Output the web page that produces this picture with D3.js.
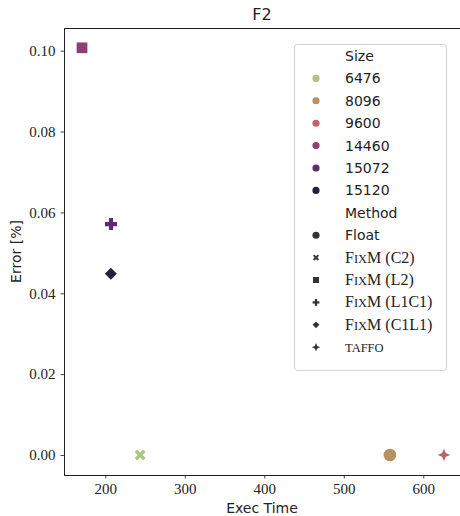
<!DOCTYPE html>
<html>
<head>
<meta charset="utf-8">
<script src="https://cdn.jsdelivr.net/npm/d3@7"></script>
<style>
  html, body { margin: 0; padding: 0; background: #fff; }
  svg { display: block; }
  .sans { font-family: "DejaVu Sans", sans-serif; }
  .serif { font-family: "Liberation Serif", serif; }
</style>
</head>
<body>
<div id="chart"></div>
<script>
// --- data ---
const sizes = ["6476", "8096", "9600", "14460", "15072", "15120"];
const sizeColors = ["#afc27f", "#b79160", "#bc6563", "#8f3e72", "#5c2c6c", "#24203f"];
const methods = ["Float", "FixM (C2)", "FixM (L2)", "FixM (L1C1)", "FixM (C1L1)", "taffo"];

const pointSize   = ["6476", "8096", "9600", "14460", "15072", "15120"];
const pointMethod = ["FixM (C2)", "Float", "taffo", "FixM (L2)", "FixM (L1C1)", "FixM (C1L1)"];
const execTime    = [243.8, 558, 626, 170.7, 207.2, 207.0];
const errorPct    = [0, 0, 0, 0.1007, 0.0571, 0.0448];

const xTicks = [200, 300, 400, 500, 600];
const yTicks = [0, 0.02, 0.04, 0.06, 0.08, 0.10];

// --- custom marker shapes (matplotlib-ish) ---
function poly(ctx, pts) {
  ctx.moveTo(pts[0][0], pts[0][1]);
  for (let i = 1; i < pts.length; i++) ctx.lineTo(pts[i][0], pts[i][1]);
  ctx.closePath();
}
const plusPts = t => [[-t,-1],[t,-1],[t,-t],[1,-t],[1,t],[t,t],[t,1],[-t,1],[-t,t],[-1,t],[-1,-t],[-t,-t]];
const symPlus = { draw(ctx, size) {
  const r = Math.sqrt(size) / 2;
  poly(ctx, plusPts(0.34).map(([x, y]) => [x * r, y * r]));
}};
const symX = { draw(ctx, size) {
  const r = Math.sqrt(size) / 2, c = Math.SQRT1_2;
  poly(ctx, plusPts(0.28).map(([x, y]) => [(x - y) * c * r, (x + y) * c * r]));
}};
const symDiamond = { draw(ctx, size) {
  const r = Math.sqrt(size) / 2;
  poly(ctx, [[0, -r], [r, 0], [0, r], [-r, 0]]);
}};
const symStar4 = { draw(ctx, size) {
  const r = Math.sqrt(size) / 2, q = r * 0.3;
  poly(ctx, [[0, -r], [q, -q], [r, 0], [q, q], [0, r], [-q, q], [-r, 0], [-q, -q]]);
}};
// [shape, scale in plot, scale in legend]
const methodShape = {
  "Float": [d3.symbolCircle, 1.0, 1.0],
  "FixM (C2)": [symX, 1.0, 1.0],
  "FixM (L2)": [d3.symbolSquare, 0.8, 0.8],
  "FixM (L1C1)": [symPlus, 1.0, 1.0],
  "FixM (C1L1)": [symDiamond, 1.0, 1.0],
  "taffo": [symStar4, 1.1, 1.5]
};

const W = 460, H = 516;
const M = { left: 64, right: 460, top: 28, bottom: 475 };

const x = d3.scaleLinear().domain([148.05, 646.2]).range([M.left, M.right]);
const y = d3.scaleLinear().domain([-0.00495, 0.1056]).range([M.bottom, M.top]);
const color = d3.scaleOrdinal().domain(sizes).range(sizeColors);

const svg = d3.select("#chart").append("svg").attr("width", W).attr("height", H);

// title
svg.append("text").attr("class", "sans")
  .attr("x", (M.left + M.right) / 2).attr("y", 20)
  .attr("text-anchor", "middle").attr("font-size", 16).attr("fill", "#222")
  .text("F2");

// axes
const xAxis = svg.append("g").attr("transform", `translate(0,${M.bottom})`)
  .call(d3.axisBottom(x).tickValues(xTicks).tickSize(3.5).tickPadding(5).tickFormat(d3.format("d")));
const yAxis = svg.append("g").attr("transform", `translate(${M.left},0)`)
  .call(d3.axisLeft(y).tickValues(yTicks).tickSize(3.5).tickPadding(5).tickFormat(d3.format(".2f")));
[xAxis, yAxis].forEach(g => {
  g.select(".domain").remove();
  g.selectAll(".tick line").attr("stroke", "#333").attr("stroke-width", 0.9);
  g.selectAll(".tick text").attr("class", "serif").attr("font-size", 15).attr("fill", "#222");
});

// frame
svg.append("rect")
  .attr("x", M.left + 0.5).attr("y", M.top + 0.5)
  .attr("width", M.right - M.left).attr("height", M.bottom - M.top)
  .attr("fill", "none").attr("stroke", "#222").attr("stroke-width", 1);

// axis labels
svg.append("text").attr("class", "sans")
  .attr("x", (M.left + M.right) / 2).attr("y", 513)
  .attr("text-anchor", "middle").attr("font-size", 14).attr("fill", "#222")
  .text("Exec Time");
svg.append("text").attr("class", "sans")
  .attr("transform", `translate(21,${(M.top + M.bottom) / 2}) rotate(-90)`)
  .attr("text-anchor", "middle").attr("font-size", 14).attr("fill", "#222")
  .text("Error [%]");

// points
const pts = execTime.map((t, i) => ({ t, e: errorPct[i], s: pointSize[i], m: pointMethod[i] }));
svg.append("g").selectAll("path").data(pts).join("path")
  .attr("transform", d => `translate(${x(d.t)},${y(d.e)})`)
  .attr("d", d => {
    const [shape, k] = methodShape[d.m];
    const base = shape === d3.symbolCircle ? 125 : 144;
    return d3.symbol().type(shape).size(base * k)();
  })
  .attr("fill", d => color(d.s));

// legend
const lg = svg.append("g");
lg.append("rect").attr("x", 294.5).attr("y", 44.5).attr("width", 152).attr("height", 326)
  .attr("rx", 3).attr("fill", "#fff").attr("fill-opacity", 0.8)
  .attr("stroke", "#d0d0d0").attr("stroke-width", 1);

const rowY0 = 61, rowStep = 22.4, markX = 316, textX = 345;
const rows = [{ label: "Size", title: true }]
  .concat(sizes.map(s => ({ label: s, size: s })))
  .concat([{ label: "Method", title: true }])
  .concat(methods.map(m => ({ label: m, method: m })));

// small caps done by hand: lowercase letters become smaller capitals
function smallCaps(textSel, label, big, small) {
  const parts = label.match(/[a-z]+|[^a-z]+/g);
  parts.forEach(p => {
    const lower = /^[a-z]+$/.test(p);
    textSel.append("tspan").attr("font-size", lower ? small : big)
      .text(lower ? p.toUpperCase() : p);
  });
}

rows.forEach((r, i) => {
  const cy = rowY0 + i * rowStep;
  if (r.size) {
    lg.append("path").attr("transform", `translate(${markX},${cy - 5})`)
      .attr("d", d3.symbol().type(d3.symbolCircle).size(40)()).attr("fill", color(r.size));
  }
  if (r.method) {
    const [shape, , k] = methodShape[r.method];
    const base = shape === d3.symbolCircle ? 40 : 46;
    lg.append("path").attr("transform", `translate(${markX},${cy - 5})`)
      .attr("d", d3.symbol().type(shape).size(base * k)()).attr("fill", "#333");
  }
  const isFix = r.method && r.method !== "Float";
  const tx = lg.append("text").attr("x", textX).attr("y", cy)
    .attr("class", isFix ? "serif" : "sans")
    .attr("font-size", 14).attr("fill", "#222");
  if (isFix) smallCaps(tx, r.label, 16, 12.5);
  else tx.text(r.label);
});
</script>
</body>
</html>
